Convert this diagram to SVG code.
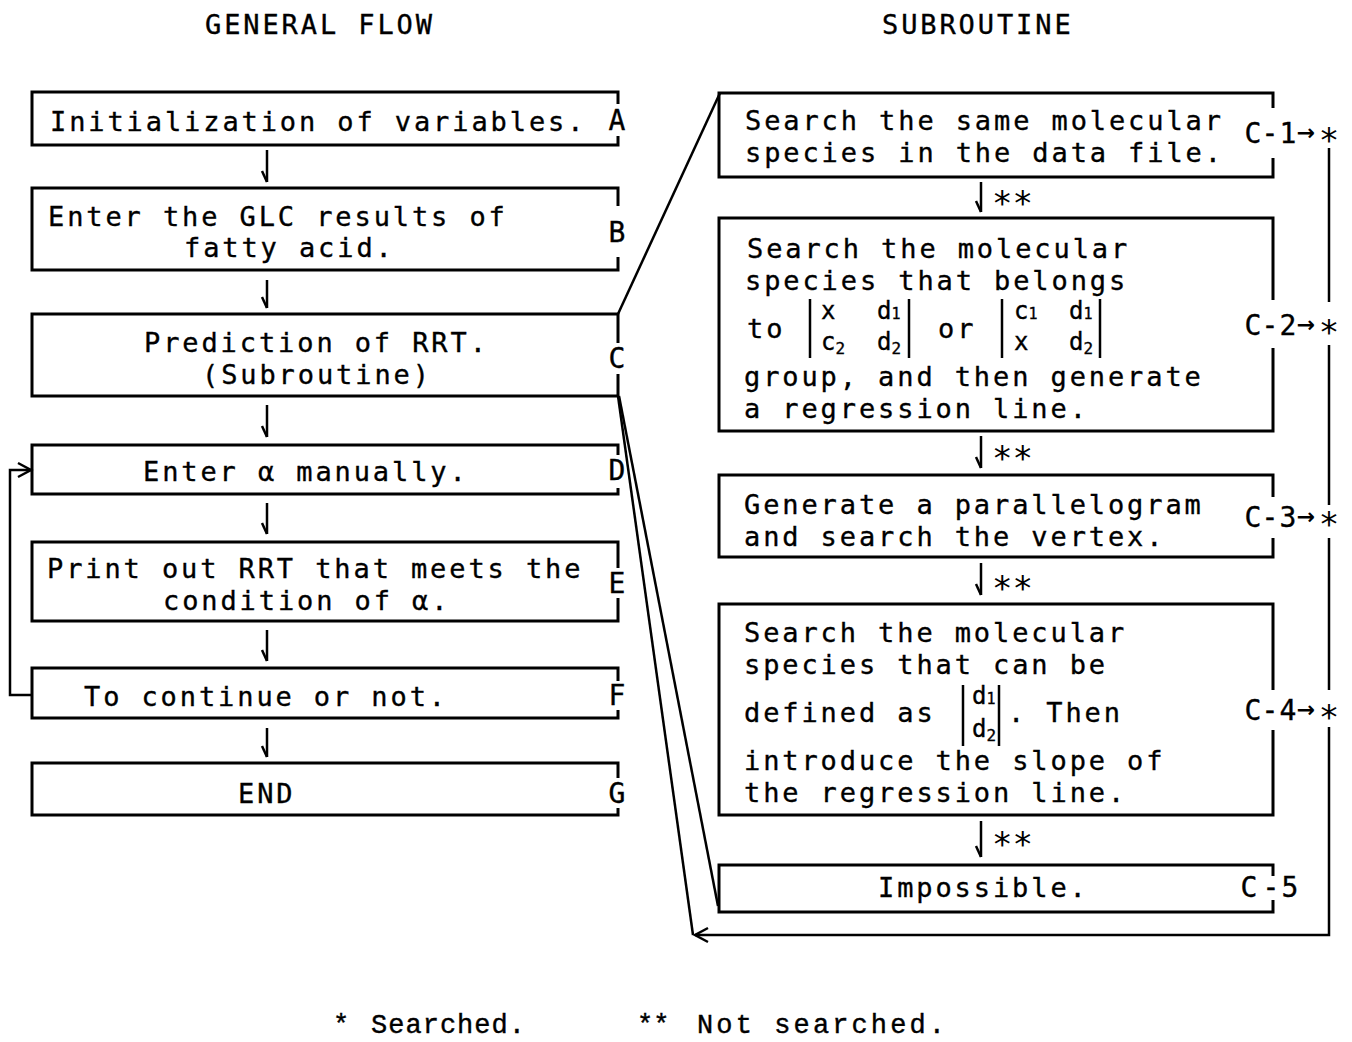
<svg xmlns="http://www.w3.org/2000/svg" width="1352" height="1042" viewBox="0 0 1352 1042">
<style>
.box{fill:none;stroke:#000;stroke-width:3;stroke-linejoin:miter}
.t{font-family:"DejaVu Sans Mono","Liberation Mono",monospace;font-size:27px;letter-spacing:2.9px;fill:#000;stroke:#000;stroke-width:0.35}
.m{font-family:"DejaVu Sans Mono","Liberation Mono",monospace;font-size:24px;fill:#000;stroke:#000;stroke-width:0.35}
.lbl{font-family:"DejaVu Sans Mono","Liberation Mono",monospace;font-size:28px;fill:#000;text-anchor:middle;stroke:#000;stroke-width:0.35}
.star{font-family:"DejaVu Sans Mono","Liberation Mono",monospace;font-size:34px;fill:#000}
.rs{text-anchor:middle}
.arr{font-family:"DejaVu Sans","Liberation Sans",sans-serif;font-size:22px;font-weight:bold;fill:#000;text-anchor:middle}
.foot{font-family:"Liberation Mono","Courier New",monospace;font-size:27px;fill:#000;stroke:#000;stroke-width:0.4}
.ln{stroke:#000;fill:none;stroke-width:2.5}
.bar{stroke:#000;stroke-width:2.5}
.down{stroke:#000;fill:none;stroke-width:2.5;marker-end:url(#barb)}
</style>
<defs>
<marker id="barb" markerUnits="userSpaceOnUse" markerWidth="30" markerHeight="30" refX="0" refY="0" viewBox="-15 -15 30 30" orient="auto" overflow="visible">
<path d="M-11,5 L0,0" stroke="#000" stroke-width="2.5" fill="none"/>
</marker>
<marker id="chev" markerUnits="userSpaceOnUse" markerWidth="30" markerHeight="30" refX="0" refY="0" viewBox="-15 -15 30 30" orient="auto" overflow="visible">
<path d="M-13,-7 L0,0 L-13,7" stroke="#000" stroke-width="2.5" fill="none"/>
</marker>
</defs>
<rect x="0" y="0" width="1352" height="1042" fill="#fff"/>

<g id="titles">
<text class="t" x="205" y="34">GENERAL FLOW</text>
<text class="t" x="882" y="34">SUBROUTINE</text>
</g>

<g id="n-A">
<path class="box" d="M618,104 V92 H32 V145 H618 V136"/>
<text class="t" x="50" y="131">Initialization of variables.</text>
<text class="lbl" x="617" y="130">A</text>
</g>
<g id="n-B">
<path class="box" d="M618,206 V188 H32 V270 H618 V257"/>
<text class="t" x="48" y="226">Enter the GLC results of</text>
<text class="t" x="184" y="257">fatty acid.</text>
<text class="lbl" x="617" y="242">B</text>
</g>
<g id="n-C">
<path class="box" d="M618,343 V314 H32 V396 H618 V374"/>
<text class="t" x="144" y="352">Prediction of RRT.</text>
<text class="t" x="202" y="384">(Subroutine)</text>
<text class="lbl" x="617" y="368">C</text>
</g>
<g id="n-D">
<path class="box" d="M618,455 V445 H32 V494 H618 V488"/>
<text class="t" x="143" y="481">Enter α manually.</text>
<text class="lbl" x="617" y="480">D</text>
</g>
<g id="n-E">
<path class="box" d="M618,568 V542 H32 V621 H618 V598"/>
<text class="t" x="47" y="578">Print out RRT that meets the</text>
<text class="t" x="163" y="610">condition of α.</text>
<text class="lbl" x="617" y="593">E</text>
</g>
<g id="n-F">
<path class="box" d="M618,681 V668 H32 V718 H618 V710"/>
<text class="t" x="84" y="706">To continue or not.</text>
<text class="lbl" x="617" y="705">F</text>
</g>
<g id="n-G">
<path class="box" d="M618,778 V763 H32 V815 H618 V808"/>
<text class="t" x="238" y="803">END</text>
<text class="lbl" x="617" y="803">G</text>
</g>

<g id="n-C1">
<path class="box" d="M1273,108 V93 H719 V177 H1273 V158"/>
<text class="t" x="745" y="130">Search the same molecular</text>
<text class="t" x="745" y="162">species in the data file.</text>
<text class="lbl" x="1253 1270 1288" y="143">C-1</text>
<text class="arr" x="1306" y="140">→</text>
<text class="star rs" x="1329" y="152">*</text>
</g>
<g id="n-C2">
<path class="box" d="M1273,300 V218 H719 V431 H1273 V348"/>
<text class="t" x="747" y="258">Search the molecular</text>
<text class="t" x="745" y="290">species that belongs</text>
<text class="t" x="747" y="338">to</text>
<line class="bar" x1="810" y1="299" x2="810" y2="358"/>
<text class="m" x="821" y="319">x</text>
<text class="m" x="821" y="350">c<tspan dy="4" font-size="16">2</tspan></text>
<text class="m" x="877" y="319">d<tspan font-size="15">1</tspan></text>
<text class="m" x="877" y="350">d<tspan dy="4" font-size="16">2</tspan></text>
<line class="bar" x1="909" y1="299" x2="909" y2="358"/>
<text class="t" x="938" y="338">or</text>
<line class="bar" x1="1002" y1="299" x2="1002" y2="358"/>
<text class="m" x="1014" y="319">c<tspan font-size="15">1</tspan></text>
<text class="m" x="1014" y="350">x</text>
<text class="m" x="1069" y="319">d<tspan font-size="15">1</tspan></text>
<text class="m" x="1069" y="350">d<tspan dy="4" font-size="16">2</tspan></text>
<line class="bar" x1="1100" y1="299" x2="1100" y2="358"/>
<text class="t" x="744" y="386">group, and then generate</text>
<text class="t" x="744" y="418">a regression line.</text>
<text class="lbl" x="1253 1270 1288" y="335">C-2</text>
<text class="arr" x="1306" y="332">→</text>
<text class="star rs" x="1329" y="344">*</text>
</g>
<g id="n-C3">
<path class="box" d="M1273,497 V475 H719 V557 H1273 V538"/>
<text class="t" x="744" y="514">Generate a parallelogram</text>
<text class="t" x="744" y="546">and search the vertex.</text>
<text class="lbl" x="1253 1270 1288" y="527">C-3</text>
<text class="arr" x="1306" y="524">→</text>
<text class="star rs" x="1329" y="536">*</text>
</g>
<g id="n-C4">
<path class="box" d="M1273,690 V604 H719 V815 H1273 V730"/>
<text class="t" x="744" y="642">Search the molecular</text>
<text class="t" x="744" y="674">species that can be</text>
<text class="t" x="744" y="722">defined as</text>
<line class="bar" x1="963" y1="685" x2="963" y2="746"/>
<text class="m" x="972" y="704">d<tspan font-size="15">1</tspan></text>
<text class="m" x="972" y="737">d<tspan dy="4" font-size="16">2</tspan></text>
<line class="bar" x1="999" y1="685" x2="999" y2="746"/>
<text class="t" x="1008" y="722">. Then</text>
<text class="t" x="744" y="770">introduce the slope of</text>
<text class="t" x="744" y="802">the regression line.</text>
<text class="lbl" x="1253 1270 1288" y="720">C-4</text>
<text class="arr" x="1306" y="717">→</text>
<text class="star rs" x="1329" y="729">*</text>
</g>
<g id="n-C5">
<path class="box" d="M1273,876 V865 H719 V912 H1273 V900"/>
<text class="t" x="878" y="897">Impossible.</text>
<text class="lbl" x="1249 1271 1290" y="897">C-5</text>
</g>

<g id="connectors">
<path class="down" d="M267,150 V182"/>
<path class="down" d="M267,280 V308"/>
<path class="down" d="M267,405 V437"/>
<path class="down" d="M267,503 V534"/>
<path class="down" d="M267,630 V661"/>
<path class="down" d="M267,728 V757"/>
<path class="down" d="M981,182 V212"/>
<path class="down" d="M981,436 V468"/>
<path class="down" d="M981,563 V595"/>
<path class="down" d="M981,821 V857"/>
<text class="star" x="992" y="215">**</text>
<text class="star" x="992" y="470">**</text>
<text class="star" x="992" y="600">**</text>
<text class="star" x="992" y="856">**</text>
<path class="ln" d="M32,695 H10 V470 H31" stroke-width="3" marker-end="url(#chev)"/>
<path class="ln" d="M618,314 L720,93" stroke-width="3.2"/>
<path class="ln" d="M619,396 L718,906" stroke-width="5"/>
<path class="ln" d="M618,396 L693,935" stroke-width="1.8"/>
<path class="ln" d="M1329,148 V302 M1329,345 V505 M1329,538 V690"/>
<path class="ln" d="M1329,727 V935 H695" marker-end="url(#chev)"/>
</g>

<g id="legend">
<text class="foot" x="333" y="1033">*</text>
<text class="foot" x="371" y="1033" textLength="154" lengthAdjust="spacing">Searched.</text>
<text class="foot" x="637" y="1033">**</text>
<text class="foot" x="697" y="1033" textLength="248" lengthAdjust="spacing">Not searched.</text>
</g>
</svg>
